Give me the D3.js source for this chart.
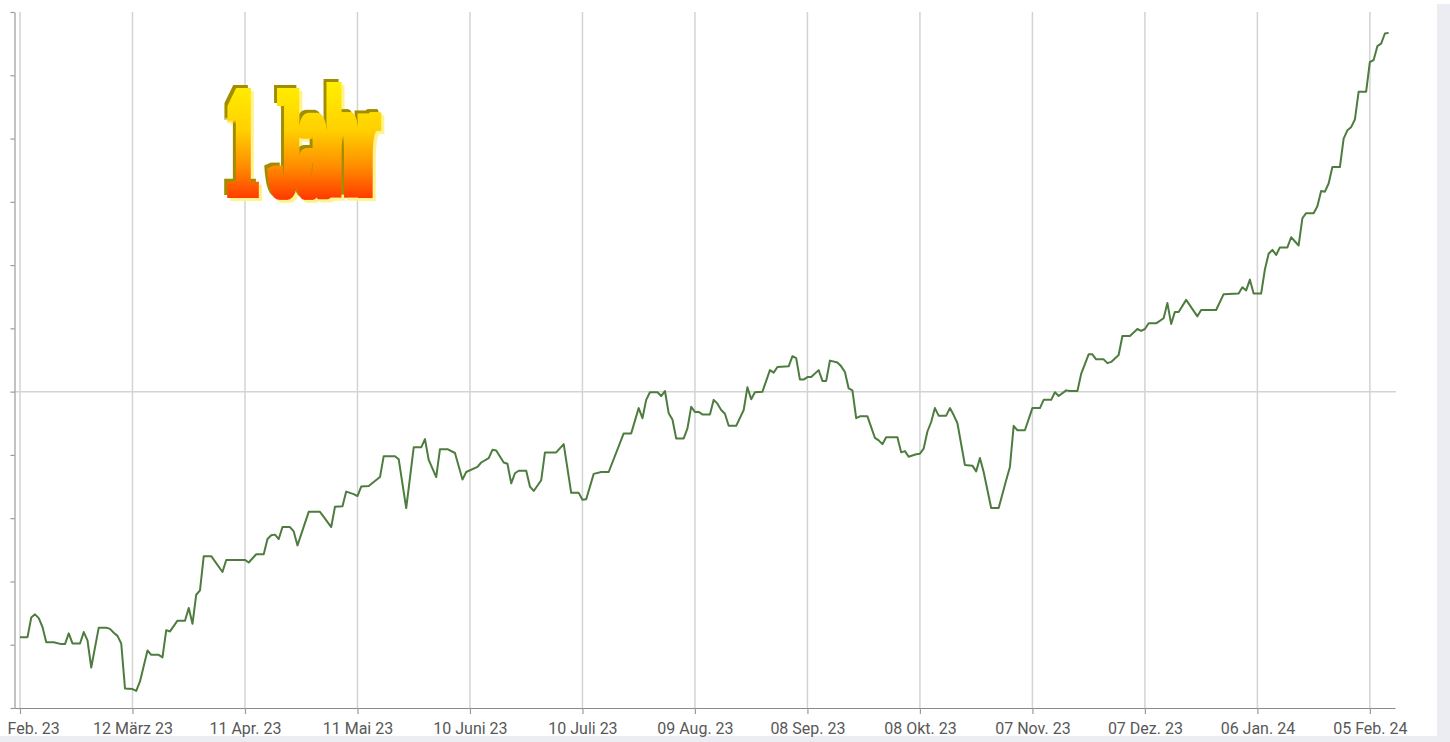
<!DOCTYPE html>
<html lang="de">
<head>
<meta charset="utf-8">
<script src="https://cdn.jsdelivr.net/npm/d3@7"></script>
<style>
  html, body { margin: 0; padding: 0; background: #fff; }
  svg { display: block; }
</style>
</head>
<body>
<svg id="chart" width="1450" height="742"></svg>
<script>
// data: day offsets from the first day and the level of the line
var startDate = new Date(Date.UTC(2023, 1, 10));

var dayOffsets = [
    0, 2, 3, 4, 5, 6, 7, 9, 11, 12,
    13, 14, 16, 17, 18, 19, 21, 23, 24, 25,
    26, 27, 28, 30, 31, 32, 34, 35, 37, 38,
    39, 40, 42, 44, 45, 46, 47, 48, 49, 51,
    54, 55, 60, 61, 63, 65, 66, 67, 68, 69,
    70, 72, 73, 74, 77, 80, 81, 83, 84, 86,
    87, 89, 90, 91, 93, 96, 97, 100, 101, 103,
    105, 107, 108, 109, 111, 112, 114, 116, 118, 119,
    122, 123, 125, 126, 127, 129, 130, 131, 132, 133,
    135, 136, 137, 139, 140, 143, 145, 147, 149, 150,
    151, 153, 155, 157, 161, 163, 165, 166, 167, 168,
    170, 171, 172, 173, 174, 175, 177, 178, 179, 180,
    181, 182, 184, 185, 186, 187, 188, 189, 191, 193,
    194, 195, 196, 198, 200, 201, 202, 205, 206, 207,
    208, 209, 210, 211, 213, 214, 215, 216, 218, 219,
    220, 221, 222, 223, 224, 226, 228, 229, 230, 231,
    234, 235, 236, 237, 239, 240, 241, 242, 243, 244,
    245, 247, 248, 249, 250, 252, 254, 255, 256, 257,
    259, 261, 263, 264, 265, 266, 268, 270, 272, 273,
    275, 276, 277, 279, 280, 282, 283, 285, 286, 287,
    289, 290, 291, 293, 294, 296, 298, 299, 300, 301,
    303, 305, 306, 307, 308, 309, 311, 314, 315, 319,
    321, 325, 326, 327, 328, 329, 331, 332, 333, 334,
    335, 336, 338, 339, 341, 342, 343, 345, 346, 347,
    348, 349, 350, 352, 353, 354, 355, 356, 357, 359,
    360, 361, 362, 363, 364, 365
];

var levels = [
    11.2, 11.2, 14.3, 14.8, 14.2, 12.8, 10.4, 10.4, 10.1, 10.1,
    11.8, 10.2, 10.2, 12.0, 10.7, 6.4, 12.7, 12.7, 12.5, 11.9,
    11.4, 10.2, 3.1, 3.0, 2.7, 4.2, 9.1, 8.4, 8.4, 8.0,
    12.3, 12.1, 13.8, 13.8, 15.8, 13.3, 17.9, 18.6, 24.0, 24.0,
    21.5, 23.4, 23.4, 23.0, 24.3, 24.3, 26.7, 27.3, 27.4, 26.7,
    28.6, 28.6, 27.9, 25.7, 31.0, 31.0, 30.2, 28.6, 31.8, 31.9,
    34.2, 33.8, 33.5, 35.0, 35.1, 36.5, 39.8, 39.8, 39.3, 31.6,
    41.2, 41.2, 42.5, 39.2, 36.5, 40.9, 40.9, 40.3, 36.1, 37.3,
    38.1, 38.8, 39.5, 40.8, 40.7, 38.8, 38.6, 35.5, 37.1, 37.5,
    37.5, 35.0, 34.3, 36.0, 40.4, 40.4, 41.7, 34.0, 34.0, 32.9,
    33.0, 37.0, 37.3, 37.3, 43.4, 43.4, 47.4, 45.8, 48.7, 49.9,
    49.9, 49.3, 50.1, 46.6, 45.6, 42.6, 42.6, 44.2, 47.6, 46.8,
    46.8, 46.4, 46.4, 48.7, 48.1, 47.1, 46.5, 44.6, 44.6, 47.1,
    50.7, 48.8, 49.9, 50.0, 53.4, 53.0, 53.9, 54.0, 55.6, 55.3,
    51.9, 51.9, 52.3, 52.3, 53.4, 51.7, 51.7, 54.9, 54.6, 54.0,
    53.1, 50.5, 50.2, 45.8, 46.1, 46.1, 42.7, 42.3, 41.7, 42.8,
    42.8, 40.4, 40.6, 39.7, 40.1, 40.2, 41.0, 43.7, 45.2, 47.4,
    46.2, 46.2, 47.4, 46.3, 45.0, 38.4, 38.3, 37.4, 39.5, 37.3,
    31.6, 31.6, 36.0, 38.1, 44.6, 43.9, 43.9, 47.4, 47.4, 48.7,
    48.7, 49.9, 49.3, 50.2, 50.1, 50.1, 52.8, 55.9, 55.9, 55.1,
    55.1, 54.5, 54.7, 55.8, 58.8, 58.8, 59.9, 59.6, 59.9, 60.8,
    60.8, 61.6, 64.0, 60.7, 62.6, 62.6, 64.5, 61.9, 62.9, 62.9,
    65.4, 65.5, 66.5, 66.0, 67.7, 65.5, 65.5, 69.3, 71.8, 72.4,
    71.6, 72.8, 72.8, 74.4, 73.1, 77.4, 78.2, 78.2, 79.3, 81.7,
    81.6, 82.9, 85.5, 85.5, 90.0, 91.3, 91.8, 93.0, 97.4, 97.4,
    102.1, 102.4, 104.6, 105.0, 106.6, 106.7
];

var tickStepDays = 30;
var tickCount = 13;
var yTicks = d3.range(0, 111, 10);
var refLevel = 50;
var monthsDe = ["Jan.", "Feb.", "März", "Apr.", "Mai", "Juni", "Juli", "Aug.", "Sep.", "Okt.", "Nov.", "Dez."];
var titleText = "1 Jahr";

var svg = d3.select("#chart");
var dayMs = 864e5;

var x = d3.scaleUtc()
    .domain([new Date(+startDate - 1.6 * dayMs), new Date(+startDate + 366.7 * dayMs)])
    .range([14, 1395]);
var y = d3.scaleLinear().domain([0, 110]).range([708, 12]);

var series = dayOffsets.map(function (d, i) {
    return { date: d3.utcDay.offset(startDate, d), value: levels[i] };
});
var tickDates = d3.range(tickCount).map(function (i) {
    return d3.utcDay.offset(startDate, i * tickStepDays);
});

// the first label is shown without its day (the page cuts it)
function fmtDate(d, i) {
    var s = monthsDe[d.getUTCMonth()] + " " + d3.utcFormat("%y")(d);
    return i === 0 ? s : d3.utcFormat("%d")(d) + " " + s;
}

// page frame strips
svg.append("rect").attr("x", 1437).attr("y", 4).attr("width", 13).attr("height", 738).attr("fill", "#ececf3");
svg.append("rect").attr("x", 0).attr("y", 736).attr("width", 1450).attr("height", 6).attr("fill", "#ececf3");

// grid
var grid = svg.append("g");
grid.selectAll("line.v").data(tickDates).join("line")
    .attr("class", "v")
    .attr("x1", function (d) { return x(d); })
    .attr("x2", function (d) { return x(d); })
    .attr("y1", y(110)).attr("y2", y(0))
    .attr("stroke", "#d3d3d3").attr("stroke-width", 1.5);
grid.append("line")
    .attr("x1", x.range()[0]).attr("x2", x.range()[1] + 1)
    .attr("y1", y(refLevel)).attr("y2", y(refLevel))
    .attr("stroke", "#d3d3d3").attr("stroke-width", 1.5);

// axes
var xAxis = d3.axisBottom(x)
    .tickValues(tickDates)
    .tickFormat(fmtDate)
    .tickSize(6).tickSizeOuter(0).tickPadding(9);
var gx = svg.append("g").attr("transform", "translate(0," + y(0) + ")").call(xAxis);
gx.select(".domain").attr("stroke", "#8a8a8a").attr("stroke-width", 1.2);
gx.selectAll(".tick line").attr("stroke", "#9a9a9a").attr("stroke-width", 1.2);
gx.selectAll(".tick text")
    .attr("fill", "#585858")
    .style("font-family", "Roboto, 'Noto Sans', sans-serif")
    .style("font-size", "16px");
gx.selectAll(".tick text").filter(function (d, i) { return i === 0; })
    .attr("text-anchor", "start")
    .attr("x", -13);

var yAxis = d3.axisLeft(y).tickValues(yTicks).tickSize(4).tickSizeOuter(0);
var gy = svg.append("g").attr("transform", "translate(14.5,0)").call(yAxis);
gy.selectAll("text").remove();
gy.select(".domain").attr("stroke", "#9a9a9a").attr("stroke-width", 1.2);
gy.selectAll(".tick line").attr("stroke", "#9a9a9a").attr("stroke-width", 1.2);

// word-art title
var defs = svg.append("defs");
var grad = defs.append("linearGradient")
    .attr("id", "titleGrad")
    .attr("gradientUnits", "userSpaceOnUse")
    .attr("x1", 0).attr("y1", 84).attr("x2", 0).attr("y2", 199);
grad.append("stop").attr("offset", "0%").attr("stop-color", "#ffee00");
grad.append("stop").attr("offset", "40%").attr("stop-color", "#ffd000");
grad.append("stop").attr("offset", "72%").attr("stop-color", "#ff8c00");
grad.append("stop").attr("offset", "100%").attr("stop-color", "#ff3a00");

var filt = defs.append("filter").attr("id", "wordart")
    .attr("x", "-20%").attr("y", "-20%").attr("width", "140%").attr("height", "140%");
filt.append("feMorphology").attr("in", "SourceGraphic").attr("operator", "dilate")
    .attr("radius", "4 0").attr("result", "fat");
filt.append("feFlood").attr("flood-color", "#fff48c").attr("result", "c1");
filt.append("feComposite").attr("in", "c1").attr("in2", "fat").attr("operator", "in").attr("result", "lite");
filt.append("feOffset").attr("in", "lite").attr("dx", 3).attr("dy", 3).attr("result", "liteO");
filt.append("feFlood").attr("flood-color", "#a08e00").attr("result", "c2");
filt.append("feComposite").attr("in", "c2").attr("in2", "fat").attr("operator", "in").attr("result", "dark");
filt.append("feOffset").attr("in", "dark").attr("dx", -3).attr("dy", -3).attr("result", "darkO");
var merge = filt.append("feMerge");
merge.append("feMergeNode").attr("in", "liteO");
merge.append("feMergeNode").attr("in", "darkO");
merge.append("feMergeNode").attr("in", "fat");

svg.append("text")
    .attr("x", 228).attr("y", 198)
    .attr("textLength", 150)
    .attr("lengthAdjust", "spacingAndGlyphs")
    .attr("fill", "url(#titleGrad)")
    .attr("filter", "url(#wordart)")
    .style("font-family", "'Liberation Sans', Arial, sans-serif")
    .style("font-weight", "bold")
    .style("font-size", "160px")
    .text(titleText);

// the line
var line = d3.line()
    .x(function (d) { return x(d.date); })
    .y(function (d) { return y(d.value); });

svg.append("path")
    .datum(series)
    .attr("d", line)
    .attr("fill", "none")
    .attr("stroke", "#4d7c3e")
    .attr("stroke-width", 2)
    .attr("stroke-linejoin", "round");
</script>
</body>
</html>
